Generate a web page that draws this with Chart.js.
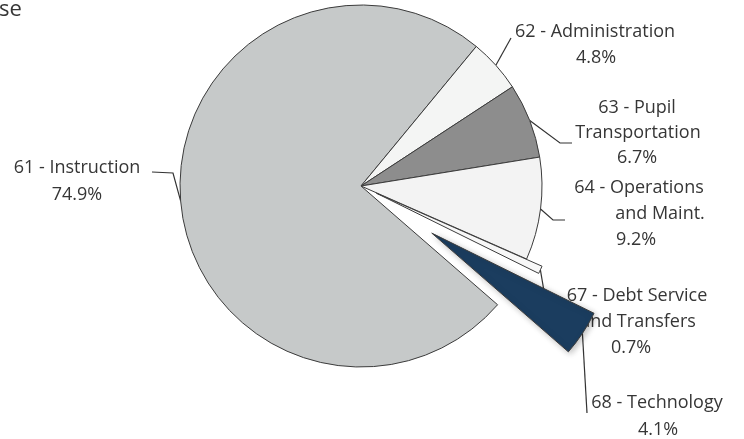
<!DOCTYPE html>
<html>
<head>
<meta charset="utf-8">
<script src="https://cdn.jsdelivr.net/npm/chart.js@4"></script>
<style>
  html, body { margin:0; padding:0; background:#fff; }
  #wrap { width:744px; height:439px; }
</style>
</head>
<body>
<div id="wrap"><canvas id="c" width="744" height="439"></canvas></div>
<script>
'use strict';
// ── Data ──────────────────────────────────────────────────
const CODES  = ['61', '62', '63', '64', '67', '68'];
const NAMES  = ['Instruction', 'Administration', 'Pupil Transportation', 'Operations and Maint.', 'Debt Service and Transfers', 'Technology'];
const SHARES = [74.9, 4.8, 6.7, 9.2, 0.7, 4.1];
const LABEL_LINES = [
  ['61 - Instruction'],
  ['62 - Administration'],
  ['63 - Pupil', 'Transportation'],
  ['64 - Operations', 'and Maint.'],
  ['67 - Debt Service', 'and Transfers'],
  ['68 - Technology'],
];

// ── Look ──────────────────────────────────────────────────
const FILL = ['#c6c9c9', '#f4f5f4', '#8d8d8d', '#f3f3f3', '#f7f7f7', '#1b3d5f'];
const EXPLODE_PX = [0, 0, 0, 0, 17, 85];
const TEXT_COLOR = '#363636';
const FONT = '18px "Open Sans"';
// per label: centre x of each line (name lines then the % line), y of first line, line step
const LABEL_POS = [
  { xs:[77, 77],           y:168, step:27 },
  { xs:[595, 596],         y:32,  step:26 },
  { xs:[637, 638, 637],    y:108, step:25 },
  { xs:[639, 660, 636],    y:188, step:26 },
  { xs:[637, 638, 631],    y:296, step:26 },
  { xs:[657, 658],         y:403, step:27 },
];
// leader bends after the arc edge point
const LEADER = [
  [[173, 173], [152, 172]],
  [[511, 38]],
  [[560, 143], [572, 143]],
  [[553, 220], [565, 220]],
  [[545, 297], [552, 297]],
  [[587, 413]],
];

const $ = id => document.getElementById(id);

function midDir(arc) {
  const { startAngle, endAngle } = arc.getProps(['startAngle', 'endAngle'], true);
  const mid = (startAngle + endAngle) / 2;
  return [Math.cos(mid), Math.sin(mid)];
}

function edgePoint(arc, i) {
  const { x, y, outerRadius } = arc.getProps(['x', 'y', 'outerRadius'], true);
  const [cx, cy] = midDir(arc);
  const r = outerRadius + EXPLODE_PX[i];
  return [x + cx * r, y + cy * r];
}

// draw the labels and leaders under the slices
const labelPlugin = {
  id: 'pieLabels',
  beforeDatasetsDraw(chart) {
    const ctx = chart.ctx;
    const meta = chart.getDatasetMeta(0);
    ctx.save();

    // cut-off title at top-left
    ctx.fillStyle = TEXT_COLOR;
    ctx.font = '22px "Open Sans"';
    ctx.textAlign = 'left';
    ctx.textBaseline = 'alphabetic';
    ctx.fillText('se', -1, 16);

    ctx.strokeStyle = '#333';
    ctx.lineWidth = 1.2;
    meta.data.forEach((arc, i) => {
      const [sx, sy] = edgePoint(arc, i);
      ctx.beginPath();
      ctx.moveTo(sx, sy);
      LEADER[i].forEach(([lx, ly]) => ctx.lineTo(lx, ly));
      ctx.stroke();
    });

    ctx.font = FONT;
    ctx.textAlign = 'center';
    ctx.textBaseline = 'middle';
    LABEL_LINES.forEach((lines, i) => {
      const all = lines.concat([SHARES[i].toFixed(1) + '%']);
      const p = LABEL_POS[i];
      all.forEach((t, j) => ctx.fillText(t, p.xs[j], p.y + j * p.step));
    });
    ctx.restore();
  }
};

// pull slices out by a plain translation (Chart.js offset also grows the radius)
const explodePlugin = {
  id: 'explode',
  beforeDatasetDraw(chart, args) {
    const ctx = chart.ctx;
    const meta = args.meta;
    meta.data.forEach((arc, i) => {
      const d = EXPLODE_PX[i];
      const [cx, cy] = midDir(arc);
      ctx.save();
      ctx.translate(cx * d, cy * d);
      if (d > 40) {
        ctx.shadowColor = 'rgba(0,0,0,0.25)';
        ctx.shadowBlur = 6;
        ctx.shadowOffsetX = 2;
        ctx.shadowOffsetY = 2;
      }
      arc.draw(ctx, chart.chartArea);
      ctx.restore();
    });
    return false;
  }
};

new Chart($('c').getContext('2d'), {
  type: 'pie',
  data: {
    labels: CODES.map((c, i) => c + ' - ' + NAMES[i]),
    datasets: [{
      data: SHARES,
      backgroundColor: FILL,
      borderColor: '#3b3b3b',
      borderWidth: 1,
      hoverOffset: 0,
    }]
  },
  options: {
    responsive: false,
    animation: false,
    events: [],
    rotation: 131,
    radius: 181,
    layout: { padding: { left: 0, right: 22, top: 0, bottom: 67 } },
    plugins: { legend: { display: false }, tooltip: { enabled: false } },
  },
  plugins: [labelPlugin, explodePlugin]
});
</script>
</body>
</html>
